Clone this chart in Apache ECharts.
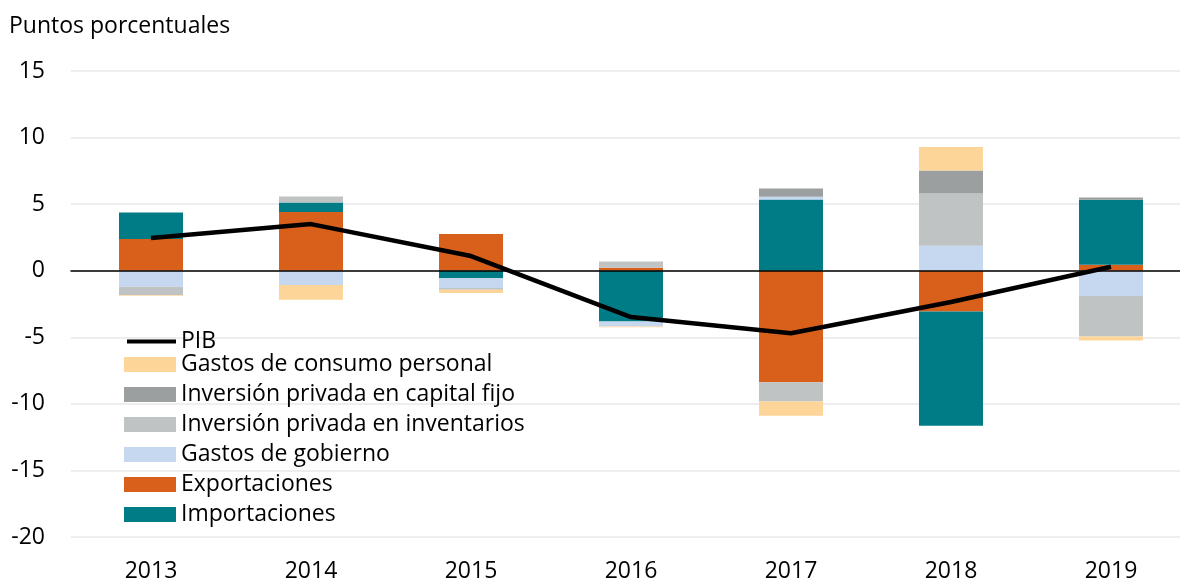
<!DOCTYPE html>
<html lang="es">
<head>
    <meta charset="UTF-8">
    <title>Contribuciones al PIB</title>
    <script src="https://cdn.jsdelivr.net/npm/echarts@6/dist/echarts.min.js"></script>
    <style>
        html, body { margin: 0; padding: 0; background: #fff; overflow: hidden; }
        /* el area de trazado sigue un poco mas alla del borde derecho, como en el original */
        #main { width: 1191px; height: 585px; }
    </style>
</head>
<body>
<div id="main"></div>
<script>
    // datos (puntos porcentuales)
    var years = ['2013', '2014', '2015', '2016', '2017', '2018', '2019'];
    var exportaciones = [2.38, 4.41, 2.76, 0.22, -8.37, -3.06, 0.45];
    var importaciones = [2.0, 0.72, -0.57, -3.81, 5.35, -8.59, 4.88];
    var gobierno = [-1.2, -1.07, -0.73, -0.38, 0.2, 1.88, -1.9];
    var inventarios = [-0.62, 0.45, -0.13, 0.48, -1.45, 3.91, -3.05];
    var capitalFijo = [0, 0, 0, 0, 0.62, 1.73, 0.17];
    var consumo = [-0.06, -1.11, -0.25, -0.06, -1.08, 1.78, -0.3];
    var pib = [2.45, 3.5, 1.1, -3.48, -4.7, -2.35, 0.3];

    var fuente = 'Open Sans';
    var tam = 23;
    var myChart = echarts.init(document.getElementById('main'));

    function barra(nombre, datos, color) {
        return {
            name: nombre,
            type: 'bar',
            stack: 'total',
            barWidth: 64,
            data: datos,
            itemStyle: { color: color },
            emphasis: { disabled: true }
        };
    }

    var textoLeyenda = { fontFamily: fuente, fontSize: tam, color: '#000', lineHeight: 23 };

    var option = {
        animation: false,
        textStyle: { fontFamily: fuente },
        title: {
            text: 'Puntos porcentuales',
            left: 9,
            top: 15,
            padding: 0,
            textStyle: { fontFamily: fuente, fontSize: tam, fontWeight: 'normal', color: '#000', lineHeight: 23 }
        },
        grid: { left: 71, top: 71, width: 1120, height: 466 },
        legend: [{
            data: ['PIB'],
            orient: 'vertical',
            left: 127,
            top: 330,
            padding: 0,
            icon: 'rect',
            itemWidth: 49,
            itemHeight: 4,
            textStyle: textoLeyenda
        }, {
            data: ['Gastos de consumo personal', 'Inversión privada en capital fijo',
                'Inversión privada en inventarios', 'Gastos de gobierno',
                'Exportaciones', 'Importaciones'],
            orient: 'vertical',
            left: 124,
            top: 353,
            padding: 0,
            icon: 'rect',
            itemWidth: 52,
            itemHeight: 15,
            itemGap: 7,
            textStyle: textoLeyenda
        }],
        xAxis: {
            type: 'category',
            data: years,
            z: 5,
            axisLine: { onZero: true, lineStyle: { color: '#000', width: 1.5 } },
            axisTick: { show: false },
            axisLabel: { fontFamily: fuente, fontSize: tam, color: '#000', margin: 23 }
        },
        yAxis: {
            type: 'value',
            min: -20,
            max: 15,
            interval: 5,
            axisLine: { show: false },
            axisTick: { show: false },
            axisLabel: { fontFamily: fuente, fontSize: tam, color: '#000', margin: 26 },
            splitLine: { lineStyle: { color: '#e8e8e8', width: 1.5 } }
        },
        series: [
            barra('Exportaciones', exportaciones, '#d9601a'),
            barra('Importaciones', importaciones, '#007c87'),
            barra('Gastos de gobierno', gobierno, '#c5d8ef'),
            barra('Inversión privada en inventarios', inventarios, '#bfc3c3'),
            barra('Inversión privada en capital fijo', capitalFijo, '#9c9f9f'),
            barra('Gastos de consumo personal', consumo, '#fdd598'),
            {
                name: 'PIB',
                type: 'line',
                data: pib,
                symbol: 'none',
                z: 10,
                itemStyle: { color: '#000' },
                lineStyle: { color: '#000', width: 4.5 }
            }
        ]
    };
    myChart.setOption(option);
</script>
</body>
</html>
